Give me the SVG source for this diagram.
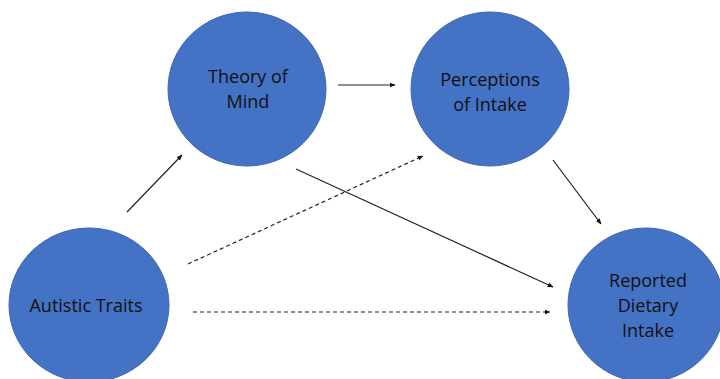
<svg xmlns="http://www.w3.org/2000/svg" width="720" height="379" viewBox="0 0 720 379">
<style>
.node{fill:#4472C4;stroke:#3F68B2;stroke-width:1}
.lbl{font-family:"Open Sans","Liberation Sans",sans-serif;font-size:18px;fill:#111;text-anchor:middle}
.c{stroke:#222;stroke-width:1.2;fill:none;marker-end:url(#ah)}
.d{stroke-dasharray:4,3}
</style>
<defs>
<marker id="ah" viewBox="0 0 10 10" refX="9" refY="5" markerWidth="6" markerHeight="6" markerUnits="userSpaceOnUse" orient="auto">
<path d="M0,1 L10,5 L0,9 z" fill="#111"/>
</marker>
</defs>
<rect width="720" height="379" fill="#fff"/>
<g id="connectors">
<line class="c" x1="127" y1="212" x2="182" y2="155"/>
<line class="c" x1="338" y1="85" x2="395" y2="85"/>
<line class="c" x1="296" y1="169" x2="553" y2="287"/>
<line class="c" x1="553" y1="160" x2="601" y2="224"/>
<line class="c d" x1="188" y1="264" x2="423" y2="156"/>
<line class="c d" x1="193" y1="312" x2="550" y2="312"/>
</g>
<g id="theory-of-mind">
<ellipse class="node" cx="247" cy="89" rx="79" ry="77"/>
<text class="lbl" x="248" y="83">Theory of</text>
<text class="lbl" x="248" y="108">Mind</text>
</g>
<g id="perceptions-of-intake">
<ellipse class="node" cx="490" cy="89" rx="79" ry="77"/>
<text class="lbl" x="490" y="86">Perceptions</text>
<text class="lbl" x="490" y="111">of Intake</text>
</g>
<g id="autistic-traits">
<ellipse class="node" cx="89" cy="305" rx="80" ry="77"/>
<text class="lbl" x="86" y="312">Autistic Traits</text>
</g>
<g id="reported-dietary-intake">
<ellipse class="node" cx="646" cy="305" rx="78" ry="77"/>
<text class="lbl" x="648" y="287">Reported</text>
<text class="lbl" x="648" y="312">Dietary</text>
<text class="lbl" x="648" y="337">Intake</text>
</g>
</svg>
